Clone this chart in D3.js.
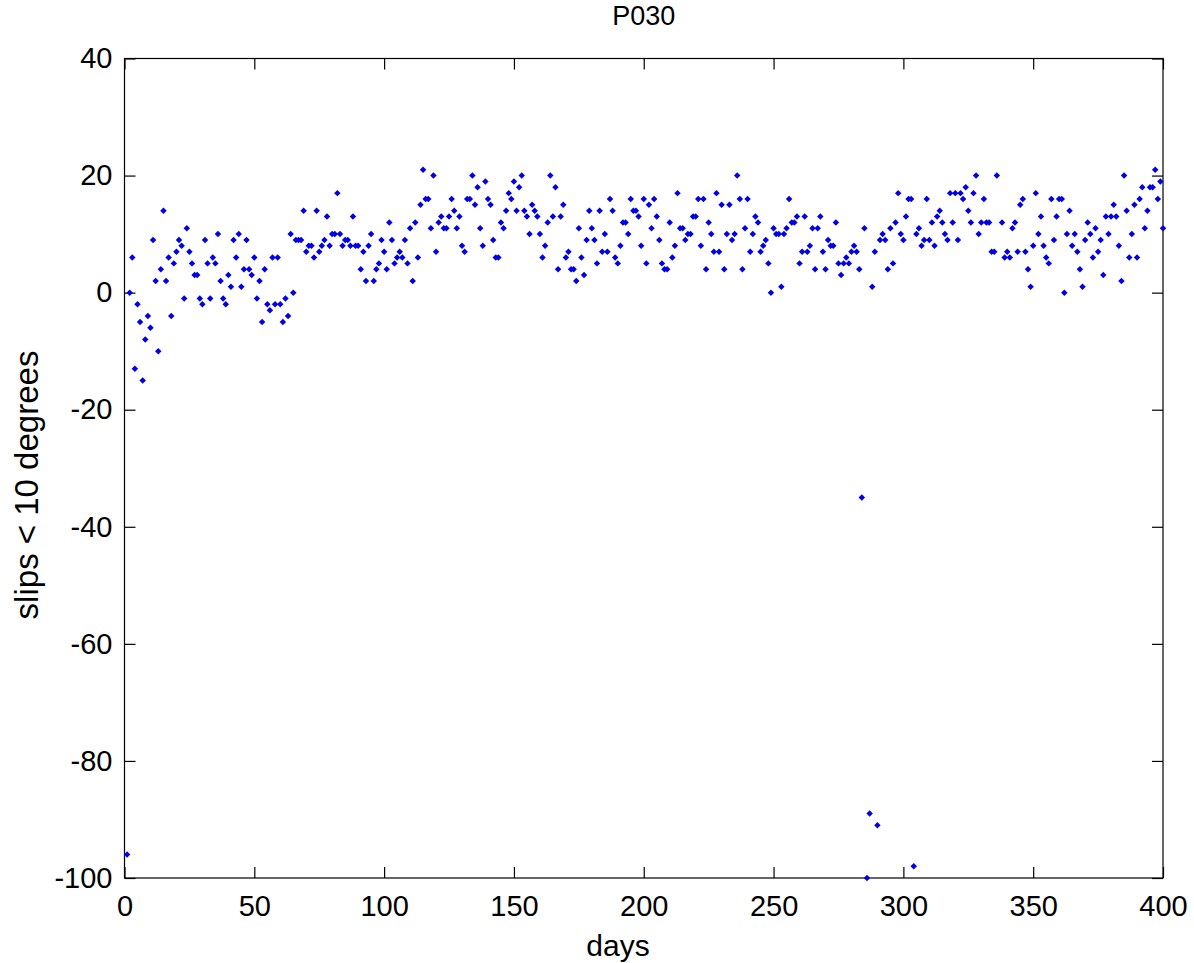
<!DOCTYPE html>
<html>
<head>
<meta charset="utf-8">
<title>P030</title>
<script src="https://cdn.jsdelivr.net/npm/d3@7"></script>
<style>
    body { margin: 0; background: #fff; }
    svg text { font-family: "Liberation Sans", Arial, Helvetica, sans-serif; fill: #000; }
</style>
</head>
<body>
<div id="chart"></div>
<script>

// slips < 10 degrees, one value per day, starting at day 1
const firstDay = 1;
const slipsA = [ -96, 0, 6, -13, -2, -5, -15, -8, -4, -6,
                   9, 2, -10, 4, 14, 2, 6, -4, 5, 7,
                   9, 8, -1, 11, 7, 5, 3, 3, -1, -2,
                   9, 5, -1, 6, 5, 10, 2, -1, -2, 3,
                   1, 9, 6, 10, 1, 4, 9, 4, 3, 6 ];
const slipsB = [ -1, 2, -5, 4, -2, -3, 6, -2, 6, -2,
                 -5, -1, -4, 10, 0, 9, 9, 9, 14, 7,
                  8, 8, 6, 14, 7, 8, 9, 13, 8, 10,
                 10, 17, 10, 8, 9, 9, 8, 13, 8, 8,
                  4, 7, 2, 8, 10, 2, 4, 5, 9, 7 ];
const slipsC = [ 4, 12, 9, 5, 6, 7, 6, 9, 5, 11,
                 2, 12, 6, 15, 21, 16, 16, 11, 20, 7,
                 12, 13, 11, 11, 13, 16, 14, 11, 13, 8,
                 7, 16, 16, 20, 15, 18, 11, 8, 19, 16,
                 15, 9, 6, 6, 12, 11, 14, 17, 16, 19 ];
const slipsD = [ 14, 18, 20, 14, 13, 10, 15, 14, 13, 10,
                 6, 8, 12, 20, 13, 18, 4, 13, 15, 6,
                 7, 4, 4, 2, 11, 6, 3, 9, 14, 11,
                 9, 5, 14, 7, 10, 7, 16, 14, 6, 5,
                 8, 12, 12, 10, 16, 14, 14, 13, 8, 16 ];
const slipsE = [ 5, 15, 11, 16, 13, 9, 5, 4, 4, 12,
                 6, 8, 17, 11, 11, 9, 10, 10, 13, 13,
                 16, 8, 16, 4, 12, 10, 7, 17, 7, 15,
                 4, 10, 15, 9, 10, 20, 16, 4, 11, 16,
                 7, 10, 13, 12, 7, 8, 9, 5, 0, 11 ];
const slipsF = [ 10, 10, 1, 10, 11, 16, 12, 12, 13, 5,
                 7, 13, 7, 8, 11, 4, 11, 13, 7, 4,
                 9, 8, 8, 12, 5, 3, 5, 6, 5, 7,
                 8, 7, 4, -35, 11, -100, -89, 1, 7, -91,
                 9, 10, 9, 4, 11, 5, 12, 17, 10, 9 ];
const slipsG = [ 13, 16, 16, -98, 10, 11, 8, 9, 16, 9,
                 12, 8, 13, 14, 12, 10, 9, 17, 12, 17,
                 9, 17, 16, 18, 14, 12, 17, 20, 10, 12,
                 16, 12, 12, 7, 7, 20, null, 12, 6, 7,
                 6, 11, 12, 7, 15, 16, 7, 4, 1, 8 ];
const slipsH = [ 17, 10, 13, 8, 6, 5, 16, 9, 13, 16,
                 16, 0, 10, 14, 8, 10, 7, 4, 1, 9,
                 12, 10, 6, 11, 7, 9, 3, 13, 10, 13,
                 15, 13, 8, 2, 20, 14, 6, 10, 15, 6,
                 16, 18, 11, 14, 18, 18, 21, 16, 19, 11 ];

const xTicks = [ 0, 50, 100, 150, 200, 250, 300, 350, 400 ];
const yTicks = [ -100, -80, -60, -40, -20, 0, 20, 40 ];

const title  = "P030";
const xLabel = "days";
const yLabel = "slips < 10 degrees";


const width      = 1194;
const height     = 963;
const plotLeft   = 124.5;
const plotRight  = 1163;
const plotTop    = 58.5;
const plotBottom = 878;
const tickLen    = 11;

const slips = [].concat( slipsA, slipsB, slipsC, slipsD, slipsE, slipsF, slipsG, slipsH );
const points = slips.map( ( v, i ) => ( { day: firstDay + i, value: v } ) )
                    .filter( d => d.value !== null );

const x = d3.scaleLinear().domain( [ 0, 400 ] ).range( [ plotLeft, plotRight ] );
const y = d3.scaleLinear().domain( [ -100, 40 ] ).range( [ plotBottom, plotTop ] );

// plain hyphen for negatives, like the original
const plain = d => String( d );

const svg = d3.select( "#chart" )
              .append( "svg" )
              .attr( "width",  width )
              .attr( "height", height )
              .attr( "viewBox", [ 0, 0, width, height ] );

// box
svg.append( "rect" )
   .attr( "x", plotLeft )
   .attr( "y", plotTop )
   .attr( "width",  plotRight - plotLeft )
   .attr( "height", plotBottom - plotTop )
   .attr( "fill", "#fff" )
   .attr( "stroke", "#000" )
   .attr( "stroke-width", 1.2 );

// axes, ticks point inward on all four sides
const axisStyle = g =>
{
    g.select( ".domain" ).remove();
    g.selectAll( ".tick line" ).attr( "stroke", "#000" ).attr( "stroke-width", 1.2 );
    g.selectAll( ".tick text" ).attr( "font-size", 29 ).attr( "fill", "#000" );
};

svg.append( "g" )
   .attr( "transform", `translate(0,${ plotBottom })` )
   .call( d3.axisBottom( x ).tickValues( xTicks ).tickFormat( plain ).tickSizeInner( -tickLen ).tickSizeOuter( 0 ).tickPadding( 17 ) )
   .call( axisStyle );

svg.append( "g" )
   .attr( "transform", `translate(0,${ plotTop })` )
   .call( d3.axisTop( x ).tickValues( xTicks ).tickSizeInner( -tickLen ).tickSizeOuter( 0 ).tickFormat( "" ) )
   .call( axisStyle );

svg.append( "g" )
   .attr( "transform", `translate(${ plotLeft },0)` )
   .call( d3.axisLeft( y ).tickValues( yTicks ).tickFormat( plain ).tickSizeInner( -tickLen ).tickSizeOuter( 0 ).tickPadding( 12 ) )
   .call( axisStyle );

svg.append( "g" )
   .attr( "transform", `translate(${ plotRight },0)` )
   .call( d3.axisRight( y ).tickValues( yTicks ).tickSizeInner( -tickLen ).tickSizeOuter( 0 ).tickFormat( "" ) )
   .call( axisStyle );

// points: small squares turned 45 degrees
const marker = d3.symbol().type( d3.symbolSquare ).size( 21 );

svg.append( "g" )
   .selectAll( "path" )
   .data( points )
   .join( "path" )
   .attr( "transform", d => `translate(${ x( d.day ) },${ y( d.value ) }) rotate(45)` )
   .attr( "d", marker )
   .attr( "fill", "#0000e6" );

// labels
svg.append( "text" )
   .attr( "x", ( plotLeft + plotRight ) / 2 )
   .attr( "y", 25 )
   .attr( "text-anchor", "middle" )
   .attr( "font-size", 27 )
   .text( title );

svg.append( "text" )
   .attr( "x", 618 )
   .attr( "y", 956 )
   .attr( "text-anchor", "middle" )
   .attr( "font-size", 30 )
   .text( xLabel );

svg.append( "text" )
   .attr( "transform", `translate(38,485) rotate(-90)` )
   .attr( "text-anchor", "middle" )
   .attr( "font-size", 33 )
   .text( yLabel );

</script>
</body>
</html>
